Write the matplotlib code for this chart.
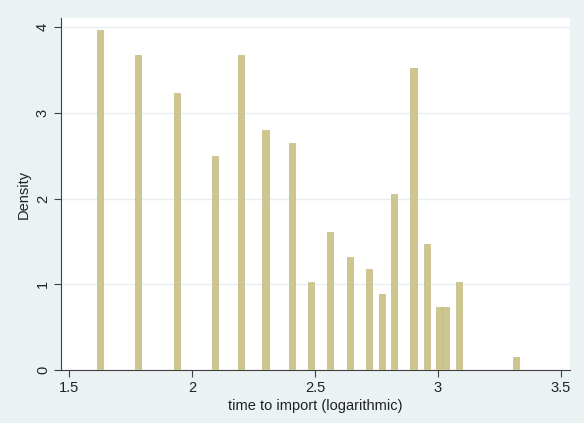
import matplotlib.pyplot as plt

# bar centres (log time) and density heights
bin_centers = [1.626, 1.780, 1.939, 2.093, 2.199, 2.300, 2.406, 2.484, 2.561, 2.642,
               2.720, 2.772, 2.821, 2.902, 2.955, 3.005, 3.032, 3.085, 3.317]
density = [3.97, 3.68, 3.24, 2.50, 3.68, 2.80, 2.65, 1.03, 1.61, 1.32,
           1.18, 0.89, 2.06, 3.53, 1.47, 0.73, 0.73, 1.03, 0.15]
x_ticks = [1.5, 2, 2.5, 3, 3.5]
x_tick_labels = ["1.5", "2", "2.5", "3", "3.5"]
y_ticks = [0, 1, 2, 3, 4]

plt.rcParams['font.family'] = ['Liberation Sans', 'DejaVu Sans']

fig = plt.figure(figsize=(5.84, 4.23), dpi=100, facecolor="#eaf2f3")
ax = fig.add_axes([61/584, 53/423, 509/584, 352/423])
ax.set_facecolor("white")

ax.bar(bin_centers, density, width=0.027, color="#cdc68f",
       edgecolor="#c2b97f", linewidth=0.5, zorder=3)

ax.set_xlim(1.4675, 3.537)
ax.set_ylim(0, 4.11)
ax.set_xticks(x_ticks)
ax.set_xticklabels(x_tick_labels)
ax.set_yticks(y_ticks)
ax.set_yticklabels([str(v) for v in y_ticks], rotation=90, va="center")
ax.yaxis.grid(True, color="#e6eef0", linewidth=1, zorder=0)

for s in ["top", "right"]:
    ax.spines[s].set_visible(False)
for s in ["left", "bottom"]:
    ax.spines[s].set_color("#404040")
    ax.spines[s].set_linewidth(0.8)
ax.tick_params(direction="out", length=5, width=0.8, color="#404040",
               labelsize=10.5, labelcolor="#222222", pad=3)

ax.set_xlabel("time to import (logarithmic)", fontsize=10.5, color="#222222", labelpad=3)
ax.set_ylabel("Density", fontsize=10.5, color="#222222", labelpad=4)

fig.savefig("out.png", dpi=100, facecolor=fig.get_facecolor())
